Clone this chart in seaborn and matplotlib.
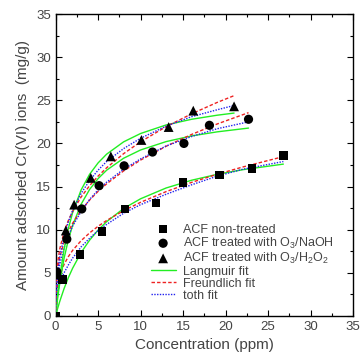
import numpy as np
import pandas as pd
import seaborn as sns
import matplotlib.pyplot as plt
from matplotlib.ticker import MultipleLocator

# measured points (concentration ppm, amount adsorbed mg/g)
non_x = [0.0, 0.8, 2.88, 5.44, 8.18, 11.8, 14.96, 19.3, 23.1, 26.8]
non_y = [0.0, 4.2, 7.1, 9.8, 12.4, 13.1, 15.45, 16.3, 17.1, 18.6]

naoh_x = [0.15, 1.32, 3.08, 5.12, 8.06, 11.4, 15.1, 18.1, 22.7]
naoh_y = [5.1, 8.9, 12.4, 15.1, 17.4, 19.0, 20.0, 22.1, 22.8]

h2o2_x = [0.35, 1.2, 2.18, 4.14, 6.5, 10.1, 13.3, 16.2, 21.0]
h2o2_y = [4.8, 9.9, 12.9, 16.0, 18.5, 20.4, 21.9, 23.8, 24.3]

# fitted curves
grid_h2o2 = [0, 0.05, 0.25, 0.5, 1, 1.5, 2, 3, 4, 5, 6, 8, 10, 13, 16, 19, 21]
lang_h2o2 = [0, 0.55, 2.49, 4.55, 7.75, 10.12, 11.96, 14.6, 16.42, 17.74, 18.75,
             20.18, 21.15, 22.14, 22.8, 23.27, 23.52]
freu_h2o2 = [0, 3.76, 6.27, 7.81, 9.73, 11.06, 12.12, 13.78, 15.1, 16.21, 17.17,
             18.81, 20.19, 21.94, 23.43, 24.75, 25.54]
toth_h2o2 = [0, 2.5, 5.0, 6.9, 9.2, 10.9, 12.2, 14.2, 15.7, 16.9, 17.9,
             19.4, 20.6, 22.0, 23.1, 23.9, 24.4]

grid_naoh = [0, 0.05, 0.25, 0.5, 1, 1.5, 2, 3, 4, 5, 6, 8, 10, 13, 16, 19, 22.7]
lang_naoh = [0, 0.45, 2.11, 3.88, 6.69, 8.82, 10.49, 12.94, 14.66, 15.92, 16.89,
             18.28, 19.24, 20.21, 20.87, 21.34, 21.78]
freu_naoh = [0, 3.25, 5.47, 6.85, 8.57, 9.77, 10.73, 12.23, 13.43, 14.44, 15.31,
             16.81, 18.07, 19.67, 21.04, 22.25, 23.57]
toth_naoh = [0, 2.3, 4.6, 6.0, 7.9, 9.3, 10.4, 12.1, 13.5, 14.6, 15.5,
             17.0, 18.2, 19.7, 20.8, 21.7, 22.5]

grid_non = [0, 0.05, 0.25, 0.5, 1, 1.5, 2, 3, 4, 5, 6, 8, 10, 13, 16, 19, 22, 26.8]
lang_non = [0, 0.19, 0.89, 1.71, 3.17, 4.43, 5.52, 7.34, 8.78, 9.95, 10.92,
            12.45, 13.58, 14.83, 15.73, 16.41, 16.95, 17.6]
freu_non = [0, 2.14, 3.72, 4.71, 5.98, 6.87, 7.59, 8.72, 9.62, 10.39, 11.06,
            12.2, 13.17, 14.41, 15.48, 16.42, 17.26, 18.47]
toth_non = [0, 1.3, 2.8, 3.8, 5.0, 5.9, 6.7, 8.0, 9.0, 9.9, 10.6,
            11.9, 12.9, 14.1, 15.2, 16.2, 17.0, 17.9]

sns.set_style("ticks")
plt.rcParams["font.family"] = ["Liberation Sans", "DejaVu Sans"]
plt.rcParams["mathtext.fontset"] = "custom"
plt.rcParams["mathtext.rm"] = "Liberation Sans"
plt.rcParams["mathtext.it"] = "Liberation Sans:italic"
plt.rcParams["xtick.direction"] = "in"
plt.rcParams["ytick.direction"] = "in"

text_color = "#444444"

fig = plt.figure(figsize=(3.61, 3.61), dpi=100)
ax = fig.add_axes([0.154, 0.125, 0.824, 0.836])

# points
points = [
    (non_x, non_y, "s", 36, "ACF non-treated"),
    (naoh_x, naoh_y, "o", 44, "ACF treated with O$_3$/NaOH"),
    (h2o2_x, h2o2_y, "^", 50, "ACF treated with O$_3$/H$_2$O$_2$"),
]
for xs, ys, mk, size, lab in points:
    sns.scatterplot(x=xs, y=ys, marker=mk, s=size, color="black",
                    edgecolor="none", label=lab, zorder=5, ax=ax)

# fits
fit_styles = [
    ("Langmuir fit", "#22ee22", "-", 1.0),
    ("Freundlich fit", "#ee2222", (0, (2.5, 1.5)), 1.0),
    ("toth fit", "#2222ee", (0, (1, 1)), 1.0),
]
fits = [
    (grid_non, [lang_non, freu_non, toth_non]),
    (grid_naoh, [lang_naoh, freu_naoh, toth_naoh]),
    (grid_h2o2, [lang_h2o2, freu_h2o2, toth_h2o2]),
]
for i, (grid, curves) in enumerate(fits):
    for (lab, col, ls, lw), vals in zip(fit_styles, curves):
        sns.lineplot(x=grid, y=vals, color=col, linestyle=ls, linewidth=lw,
                     label=lab if i == 0 else "_nolegend_", zorder=3, ax=ax)

ax.set_xlim(0, 35)
ax.set_ylim(0, 35)
ax.xaxis.set_major_locator(MultipleLocator(5))
ax.xaxis.set_minor_locator(MultipleLocator(2.5))
ax.yaxis.set_major_locator(MultipleLocator(5))
ax.yaxis.set_minor_locator(MultipleLocator(2.5))
ax.tick_params(which="both", top=True, right=True, colors="black",
               labelcolor=text_color, labelsize=9.5, width=0.8)
ax.tick_params(which="major", length=4)
ax.tick_params(which="minor", length=2)
for sp in ax.spines.values():
    sp.set_color("black")
    sp.set_linewidth(1.0)

ax.set_xlabel("Concentration (ppm)", fontsize=11, color=text_color)
ax.set_ylabel("Amount adsorbed Cr(VI) ions  (mg/g)", fontsize=11,
              color=text_color)

leg = ax.legend(loc="upper left", bbox_to_anchor=(0.29, 0.335), frameon=False,
                fontsize=9, handlelength=2.0, handletextpad=0.6,
                labelspacing=0.0, borderpad=0.2)
for t in leg.get_texts():
    t.set_color(text_color)

plt.savefig("out.png", dpi=100)
